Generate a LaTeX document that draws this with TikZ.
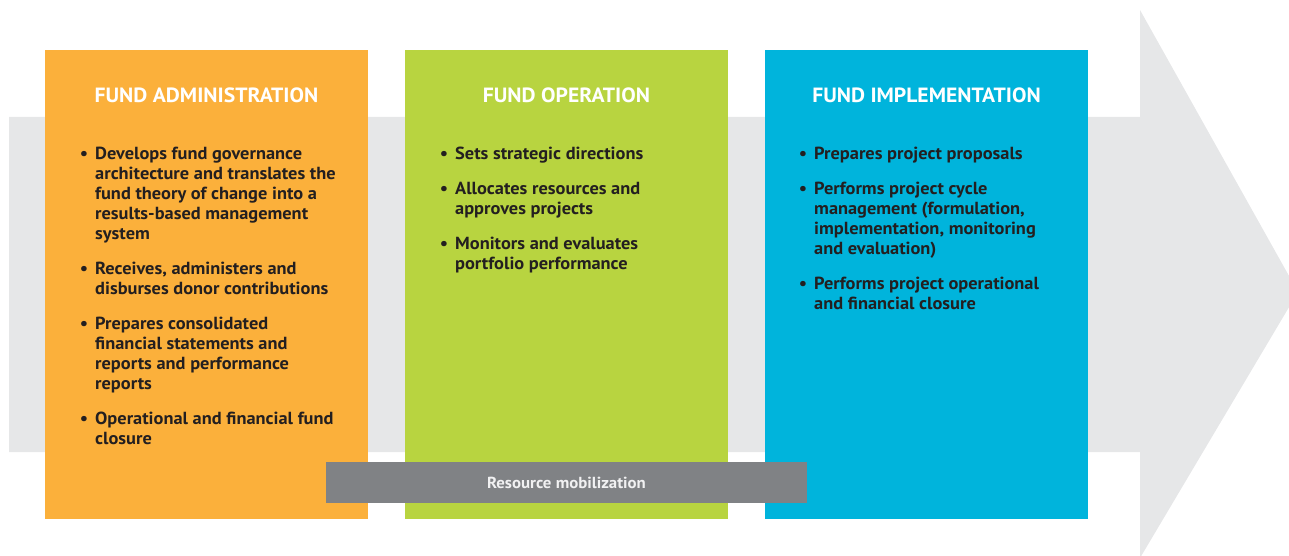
\documentclass[tikz,border=0pt]{standalone}
\usepackage{fontspec}
\setmainfont[FakeStretch=1.05]{PT Sans}
\definecolor{arrowgray}{HTML}{E6E7E8}
\definecolor{fundorange}{HTML}{FBB03B}
\definecolor{fundgreen}{HTML}{B8D440}
\definecolor{fundblue}{HTML}{00B4DC}
\definecolor{bargray}{HTML}{808285}
\definecolor{textdark}{HTML}{231F20}
\definecolor{barlight}{HTML}{F1F1F2}
\newcommand\bul{\makebox[0pt][r]{\textbullet\hspace{7pt}}}
\newcommand\fs{\rule{0pt}{14pt}}
\tikzset{
  colbox/.style={draw=none, inner sep=0, minimum width=323pt, minimum height=469pt, anchor=north west},
  coltitle/.style={inner sep=0, anchor=base, text=white, font=\fontsize{20.6}{24}\selectfont\bfseries},
  item/.style={inner sep=0, anchor=north west, align=left, text=textdark, font=\fontsize{17.5}{20}\selectfont\bfseries},
  mobbar/.style={fill=bargray, inner sep=0, minimum width=481pt, minimum height=41pt, text=barlight, font=\fontsize{16}{18}\selectfont\bfseries}
}
\begin{document}
\begin{tikzpicture}[x=1pt,y=-1pt]
\useasboundingbox (0,0) rectangle (1289,556);
\begin{scope}
\clip (0,0) rectangle (1289,556);
\fill[arrowgray] (9,117) -- (1140,117) -- (1140,10) -- (1298,292) -- (1140,558) -- (1140,452) -- (9,452) -- cycle;
\end{scope}
% boxes
\node[colbox, fill=fundorange] (admin) at (45,50) {};
\node[colbox, fill=fundgreen] (oper) at (405,50) {};
\node[colbox, fill=fundblue] (impl) at (765,50) {};
% titles
\node[coltitle] (admint) at (206.5,103) {FUND ADMINISTRATION};
\node[coltitle] (opert) at (566.5,103) {FUND OPERATION};
\node[coltitle] (implt) at (926.5,103) {FUND IMPLEMENTATION};
% admin items
\node[item] (a1) at (95,145) {\bul\fs Develops fund governance\\architecture and translates the\\fund theory of change into a\\results-based management\\system};
\node[item] (a2) at (95,260) {\bul\fs Receives, administers and\\disburses donor contributions};
\node[item] (a3) at (95,315) {\bul\fs Prepares consolidated\\financial statements and\\reports and performance\\reports};
\node[item] (a4) at (95,410) {\bul\fs Operational and financial fund\\closure};
% operation items
\node[item] (o1) at (455,145) {\bul\fs Sets strategic directions};
\node[item] (o2) at (455,180) {\bul\fs Allocates resources and\\approves projects};
\node[item] (o3) at (455,235) {\bul\fs Monitors and evaluates\\portfolio performance};
% implementation items
\node[item] (i1) at (814,145) {\bul\fs Prepares project proposals};
\node[item] (i2) at (814,180) {\bul\fs Performs project cycle\\management (formulation,\\implementation, monitoring\\and evaluation)};
\node[item] (i3) at (814,275) {\bul\fs Performs project operational\\and financial closure};
% resource mobilization bar
\node[mobbar] (mob) at (566.5,482.5) {Resource mobilization};
\end{tikzpicture}
\end{document}
